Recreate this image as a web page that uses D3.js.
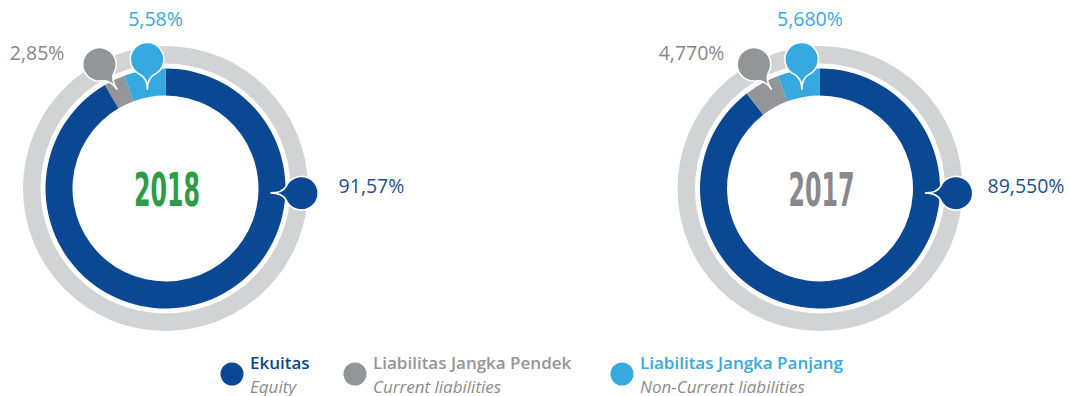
<!DOCTYPE html>
<html><head><meta charset="utf-8">
<script src="https://cdn.jsdelivr.net/npm/d3@7"></script>
<style>
html,body{margin:0;padding:0;background:#fff;}
svg{display:block;}
</style></head><body>
<svg id="chart" width="1069" height="396"></svg>
<script>
// Composition of funding: equity vs. current / non-current liabilities
const categories   = ["Ekuitas", "Liabilitas Jangka Pendek", "Liabilitas Jangka Panjang"];
const categoriesEn = ["Equity", "Current liabilities", "Non-Current liabilities"];
const years        = ["2018", "2017"];
const values2018   = [91.57, 2.85, 5.58];
const values2017   = [89.55, 4.77, 5.68];
const labelDecimals = [2, 3];

const seriesByYear = [values2018, values2017];

const svg = d3.select("#chart");

const segColor = d3.scaleOrdinal(categories, ["#0a4894", "#939598", "#36a9e1"]);
const labelColor = d3.scaleOrdinal(categories, ["#1d4f98", "#858688", "#36a9e1"]);
const yearColor = d3.scaleOrdinal(years, ["#2e9c47", "#88898c"]);

// ring geometry
const centers = [[165.5, 188.5], [820, 188.5]];
const trackOuter = 142.5, trackInner = 125;
const ringOuter = 120, ringInner = 93;
const pinR = 16.8;

// callout pins (angles in degrees clockwise from 12 o'clock)
const pinLayout = [
  { circle: [92, 136],     tip: [92.4, 105],    label: [206, 4.8] },
  { circle: [-28, 140.7],  tip: [-26, 110],     label: [-128.4, -128.5] },
  { circle: [-8.1, 130.5], tip: [-10.4, 100.5], label: [-10, -162.5] }
];

const polar = (c, deg, r) => {
  const a = deg * Math.PI / 180;
  return [c[0] + r * Math.sin(a), c[1] - r * Math.cos(a)];
};

// round callout with a pinched tail ending at t
function pinPath(c, t, r) {
  const a = Math.atan2(t[1] - c[1], t[0] - c[0]);
  const s = 0.45;
  const p1 = [c[0] + r * Math.cos(a + s), c[1] + r * Math.sin(a + s)];
  const p2 = [c[0] + r * Math.cos(a - s), c[1] + r * Math.sin(a - s)];
  const q = [c[0] + (r + 2) * Math.cos(a), c[1] + (r + 2) * Math.sin(a)];
  return `M${p1} A${r},${r} 0 1,1 ${p2} Q${q} ${t} Q${q} ${p1} Z`;
}

const pie = d3.pie().sort(null).value(d => d.value).startAngle(0).endAngle(2 * Math.PI);
const arc = d3.arc().innerRadius(ringInner).outerRadius(ringOuter);
const track = d3.arc().innerRadius(trackInner).outerRadius(trackOuter).startAngle(0).endAngle(2 * Math.PI);

const fmtComma = (v, dec) => d3.format("." + dec + "f")(v).replace(".", ",") + "%";

years.forEach((yr, yi) => {
  const c = centers[yi];
  const data = categories.map((k, i) => ({ key: k, value: seriesByYear[yi][i] }));
  const g = svg.append("g").attr("transform", `translate(${c[0]},${c[1]})`);

  g.append("path").attr("d", track()).attr("fill", "#d1d3d4");

  g.selectAll("path.seg")
    .data(pie(data))
    .join("path")
    .attr("class", "seg")
    .attr("d", arc)
    .attr("fill", d => segColor(d.data.key));

  // pins: minor segments first, equity on top
  const order = [1, 2, 0];
  order.forEach(i => {
    const L = pinLayout[i];
    const pc = polar(c, L.circle[0], L.circle[1]);
    const pt = polar(c, L.tip[0], L.tip[1]);
    svg.append("path")
      .attr("d", pinPath(pc, pt, pinR))
      .attr("fill", segColor(categories[i]))
      .attr("stroke", "#fff")
      .attr("stroke-width", 1.6)
      .attr("stroke-linejoin", "miter");
  });

  // value labels
  data.forEach((d, i) => {
    const L = pinLayout[i];
    svg.append("text")
      .attr("x", c[0] + L.label[0])
      .attr("y", c[1] + L.label[1])
      .attr("text-anchor", "middle")
      .attr("font-family", "'Open Sans', 'DejaVu Sans', sans-serif")
      .attr("font-size", 19.5)
      .attr("fill", labelColor(d.key))
      .text(fmtComma(d.value, labelDecimals[yi]));
  });

  // year in the middle
  svg.append("text")
    .attr("x", c[0] + 1.5)
    .attr("y", c[1] + 17.5)
    .attr("text-anchor", "middle")
    .attr("font-family", "'DejaVu Sans Condensed', 'Liberation Sans Narrow', sans-serif")
    .attr("font-weight", 700)
    .attr("font-size", 46)
    .attr("textLength", 66)
    .attr("lengthAdjust", "spacingAndGlyphs")
    .attr("fill", yearColor(yr))
    .text(yr);
});

// legend
const legendX = [232, 355, 622];
const legend = svg.append("g");
categories.forEach((k, i) => {
  const x = legendX[i];
  legend.append("circle").attr("cx", x).attr("cy", 374).attr("r", 11.5).attr("fill", segColor(k));
  legend.append("text")
    .attr("x", x + 18).attr("y", 369)
    .attr("font-family", "'Open Sans', sans-serif")
    .attr("font-weight", 600)
    .attr("font-size", 17)
    .attr("fill", segColor(k))
    .text(k);
  legend.append("text")
    .attr("x", x + 18).attr("y", 392.5)
    .attr("font-family", "'Open Sans', sans-serif")
    .attr("font-style", "italic")
    .attr("font-size", 17)
    .attr("fill", "#8a8b8d")
    .text(categoriesEn[i]);
});
</script>
</body></html>
